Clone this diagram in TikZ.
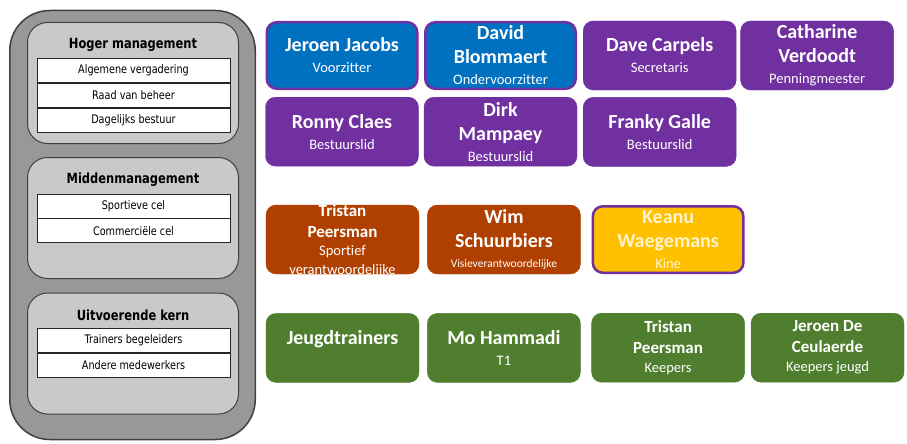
\documentclass[tikz,border=0pt]{standalone}
\usepackage{fontspec}
\setmainfont{Carlito}[Ligatures=CommonOff]
\newfontfamily\panelfont[FakeStretch=0.82]{DejaVu Sans}
\usepackage{tikz}
\usetikzlibrary{positioning}

\definecolor{blauw}{HTML}{0070C0}
\definecolor{paars}{HTML}{7030A0}
\definecolor{oranje}{HTML}{B04000}
\definecolor{geel}{HTML}{FFC000}
\definecolor{groen}{HTML}{4F7F2E}
\definecolor{bleekgeel}{HTML}{FFF4CF}
\definecolor{buitengrijs}{HTML}{989898}
\definecolor{laaggrijs}{HTML}{C9C9C9}
\definecolor{panelrand}{HTML}{404040}

\newcommand\functie[1]{{\fontsize{14.5}{16}\selectfont\mdseries #1}}

\begin{document}
\begin{tikzpicture}[
  x=1pt, y=-1pt,
  node distance = 6pt,
  buiten/.style    = {rectangle, rounded corners=40pt, minimum width=245.5pt,
                      minimum height=429pt, draw=panelrand, fill=buitengrijs,
                      line width=1.5pt},
  laag/.style      = {rectangle, rounded corners=20pt, minimum width=211pt,
                      minimum height=121pt, draw=panelrand, fill=laaggrijs,
                      line width=1pt},
  laagtitel/.style = {font=\panelfont\bfseries\fontsize{14}{16}\selectfont},
  rij/.style       = {rectangle, minimum width=193pt, minimum height=24pt,
                      draw=black!85, fill=white, line width=0.8pt, inner sep=0pt,
                      font=\panelfont\fontsize{11.8}{14}\selectfont},
  lid/.style       = {rectangle, rounded corners=10pt, minimum width=153pt,
                      minimum height=69pt, align=center, text=white, inner sep=1pt,
                      fill=#1, draw=#1, font=\bfseries\fontsize{20}{24}\selectfont,
                      execute at begin node=\rule{0pt}{18pt}},
  rand/.style      = {draw=paars, line width=2.5pt,
                      minimum width=150.5pt, minimum height=66.5pt},
  klein/.style     = {font=\bfseries\fontsize{17}{21}\selectfont},
]
\useasboundingbox (0,0) rectangle (907,444);

%% Organogram links
\node[buiten] (organogram) at (132.5,225) {};

\node[laag] (hoger) at (133,83) {};
\node[laagtitel] (hogertitel) at (133,45) {Hoger management};
\node[rij] (r1) at (133.5,70.5) {Algemene vergadering};
\node[rij, below=0pt of r1] (r2) {Raad van beheer};
\node[rij, below=0pt of r2] (r3) {Dagelijks bestuur};

\node[laag] (midden) at (133,218) {};
\node[laagtitel] (middentitel) at (133,180) {Middenmanagement};
\node[rij] (r4) at (133.5,206) {Sportieve cel};
\node[rij, below=0pt of r4] (r5) {Commerciële cel};

\node[laag] (kern) at (133,353.5) {};
\node[laagtitel] (kerntitel) at (133,315) {Uitvoerende kern};
\node[rij] (r6) at (133.5,340.5) {Trainers begeleiders};
\node[rij, below=0pt of r6] (r7) {Andere medewerkers};

%% Bestuur
\node[lid=blauw, rand] (jeroen) at (342,55.5)
  {Jeroen Jacobs\\[-3pt]\functie{Voorzitter}};
\node[lid=blauw, rand, right=5.5pt of jeroen] (david)
  {David\\Blommaert\\[-3pt]\functie{Ondervoorzitter}};
\node[lid=paars, right=6pt of david] (dave)
  {Dave Carpels\\[-3pt]\functie{Secretaris}};
\node[lid=paars, right=4pt of dave] (catharine)
  {Catharine\\Verdoodt\\[-3pt]\functie{Penningmeester}};

\node[lid=paars, below=7pt of jeroen] (ronny)
  {Ronny Claes\\[-3pt]\functie{Bestuurslid}};
\node[lid=paars, below=7pt of david] (dirk)
  {Dirk\\Mampaey\\[-3pt]\functie{Bestuurslid}};
\node[lid=paars, below=7pt of dave] (franky)
  {Franky Galle\\[-3pt]\functie{Bestuurslid}};

%% Sportieve cel
\node[lid=oranje] (tristan) at (342.5,239.5) {};
\begin{scope}
  \clip[rounded corners=10pt] (tristan.south west) rectangle (tristan.north east);
  \node[align=center, text=white, font=\bfseries\fontsize{17}{20.5}\selectfont]
    (tristantekst) at ([yshift=-1.5pt]tristan.center)
    {Tristan\\Peersman\\[-2pt]\functie{Sportief}\\[-2pt]\functie{verantwoordelijke}};
\end{scope}
\node[lid=oranje, right=8pt of tristan] (wim)
  {Wim\\Schuurbiers\\[-4pt]{\fontsize{11.5}{14}\selectfont\mdseries Visieverantwoordelijke}};
\node[lid=geel, rand, text=bleekgeel, right=11pt of wim] (keanu)
  {Keanu\\Waegemans\\[-3pt]\functie{Kine}};

%% Trainers
\node[lid=groen, below=39pt of tristan] (jeugd)
  {Jeugdtrainers\\[-3pt]\functie{\phantom{T1}}};
\node[lid=groen, below=39pt of wim] (mo)
  {Mo Hammadi\\[-3pt]\functie{T1}};
\node[lid=groen, klein, below=39pt of keanu.south, anchor=north] (tristank)
  {Tristan\\Peersman\\[-2pt]\functie{Keepers}};
\node[lid=groen, klein, right=6pt of tristank] (jeroendc)
  {Jeroen De\\Ceulaerde\\[-2pt]\functie{Keepers jeugd}};

\end{tikzpicture}
\end{document}
